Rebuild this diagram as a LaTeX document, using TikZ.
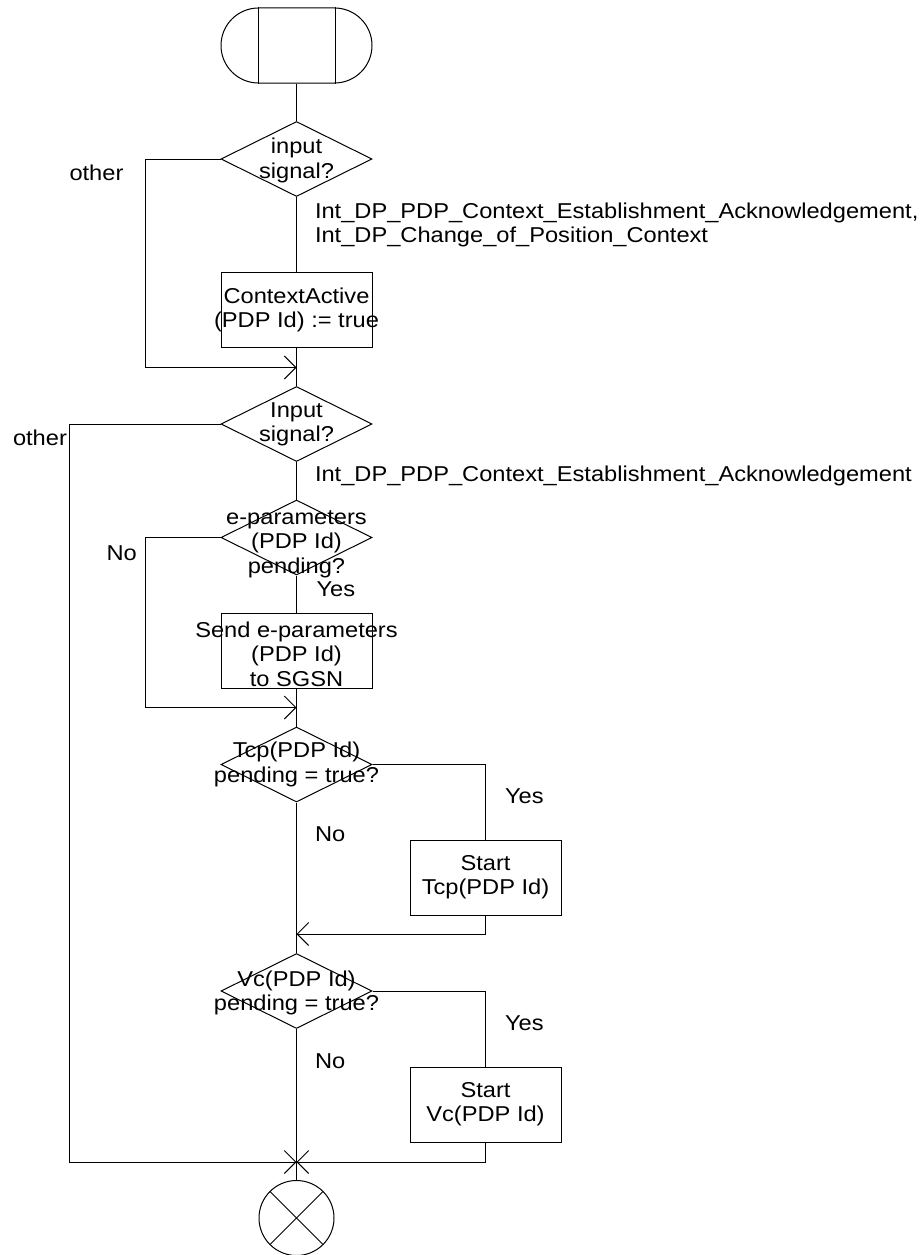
\documentclass[tikz,border=0pt]{standalone}
\usepackage{fontspec}
\setmainfont{Liberation Sans}[FakeStretch=1.1]
\usetikzlibrary{shapes.geometric, arrows.meta, calc}
\newcommand\mlines[1]{\begin{tabular}[t]{@{}c@{}}#1\end{tabular}}
\newcommand\llines[1]{\begin{tabular}[t]{@{}l@{}}#1\end{tabular}}
\begin{document}
\begin{tikzpicture}[x=1pt, y=-1pt, line width=1pt,
  txt/.style={font=\fontsize{21.5}{24.5}\selectfont, inner sep=0pt, anchor=base},
  lbl/.style={font=\fontsize{21.5}{24.5}\selectfont, inner sep=0pt, anchor=base west},
  dec/.style={draw, diamond, minimum width=151pt, minimum height=75pt, inner sep=0pt},
  taskbox/.style={draw, rectangle, minimum width=151pt, minimum height=75pt, inner sep=0pt},
  termbox/.style={draw, rectangle, rounded corners=37.5pt, minimum width=151pt, minimum height=75pt, inner sep=0pt},
  stopnode/.style={draw, circle, minimum size=75pt, inner sep=0pt},
  flow/.style={-{Straight Barb[length=11.5pt, width=23pt]}},
]
\useasboundingbox (0,0) rectangle (922,1255);

% shapes
\node[termbox] (start) at (296.5,45.5) {};
\node[dec] (d1) at (296.5,159) {};
\node[taskbox] (b1) at (296.5,310) {};
\node[dec] (d2) at (296.5,424) {};
\node[dec] (d3) at (296.5,537.5) {};
\node[taskbox] (b2) at (296.5,651) {};
\node[dec] (d4) at (296.5,764.5) {};
\node[taskbox] (b3) at (485.5,878) {};
\node[dec] (d5) at (296.5,991) {};
\node[taskbox] (b4) at (485.5,1105) {};
\node[stopnode] (stop) at (296.5,1218) {};

% junctions
\coordinate (m1) at (296.5,367.5);
\coordinate (m2) at (296.5,707.5);
\coordinate (m3) at (296.5,934);
\coordinate (m4) at (296.5,1162);
\coordinate (c1) at (145,0);
\coordinate (c2) at (69.5,0);

% terminal decorations
\draw ($(start.north west)+(37.5,0)$) -- ($(start.south west)+(37.5,0)$);
\draw ($(start.north east)+(-37.5,0)$) -- ($(start.south east)+(-37.5,0)$);
\draw (stop.north east) -- (stop.south west);
\draw (stop.north west) -- (stop.south east);

% connectors
\draw (start) -- (d1);
\draw (d1) -- (b1);
\draw[flow] (d1.west) -| (c1 |- m1) -- (m1);
\draw (b1) -- (m1) -- (d2);
\draw (d2) -- (d3);
\draw[flow] (d2.west) -| (c2 |- m4) -- (m4);
\draw (d3) -- (b2);
\draw[flow] (d3.west) -| (c1 |- m2) -- (m2);
\draw (b2) -- (m2) -- (d4);
\draw (d4.east) -| (b3.north);
\draw[flow] (b3.south) |- (m3);
\draw (d4) -- (m3) -- (d5);
\draw (d5.east) -| (b4.north);
\draw[flow] (b4.south) |- (m4);
\draw (d5) -- (m4);
\draw (m4) -- (stop);

% texts in shapes
\node[txt] (t1) at ($(d1.center)+(0,-5.5)$) {\mlines{input\\signal?}};
\node[txt] (t2) at ($(b1.center)+(0,-6.7)$) {\mlines{ContextActive\\(PDP Id) := true}};
\node[txt] (t3) at ($(d2.center)+(0,-6.7)$) {\mlines{Input\\signal?}};
\node[txt] (t4) at ($(d3.center)+(0,-13.5)$) {\mlines{e-parameters\\(PDP Id)\\pending?}};
\node[txt] (t5) at ($(b2.center)+(0,-13.7)$) {\mlines{Send e-parameters\\(PDP Id)\\to SGSN}};
\node[txt] (t6) at ($(d4.center)+(0,-6.8)$) {\mlines{Tcp(PDP Id)\\pending = true?}};
\node[txt] (t7) at ($(b3.center)+(0,-8)$) {\mlines{Start\\Tcp(PDP Id)}};
\node[txt] (t8) at ($(d5.center)+(0,-5)$) {\mlines{Vc(PDP Id)\\pending = true?}};
\node[txt] (t9) at ($(b4.center)+(0,-8)$) {\mlines{Start\\Vc(PDP Id)}};

% branch labels
\node[lbl] (o1) at (69,180.7) {other};
\node[lbl] (s1) at (314.5,218.3) {\llines{Int\_DP\_PDP\_Context\_Establishment\_Acknowledgement,\\Int\_DP\_Change\_of\_Position\_Context}};
\node[lbl] (o2) at (12.5,445) {other};
\node[lbl] (s2) at (314.5,481.7) {Int\_DP\_PDP\_Context\_Establishment\_Acknowledgement};
\node[lbl] (n1) at (106,560.4) {No};
\node[lbl] (y1) at (316,596) {Yes};
\node[lbl] (y2) at (504.5,803.3) {Yes};
\node[lbl] (n2) at (314.5,841.7) {No};
\node[lbl] (y3) at (504.5,1030.3) {Yes};
\node[lbl] (n3) at (314.5,1068.5) {No};
\end{tikzpicture}
\end{document}
